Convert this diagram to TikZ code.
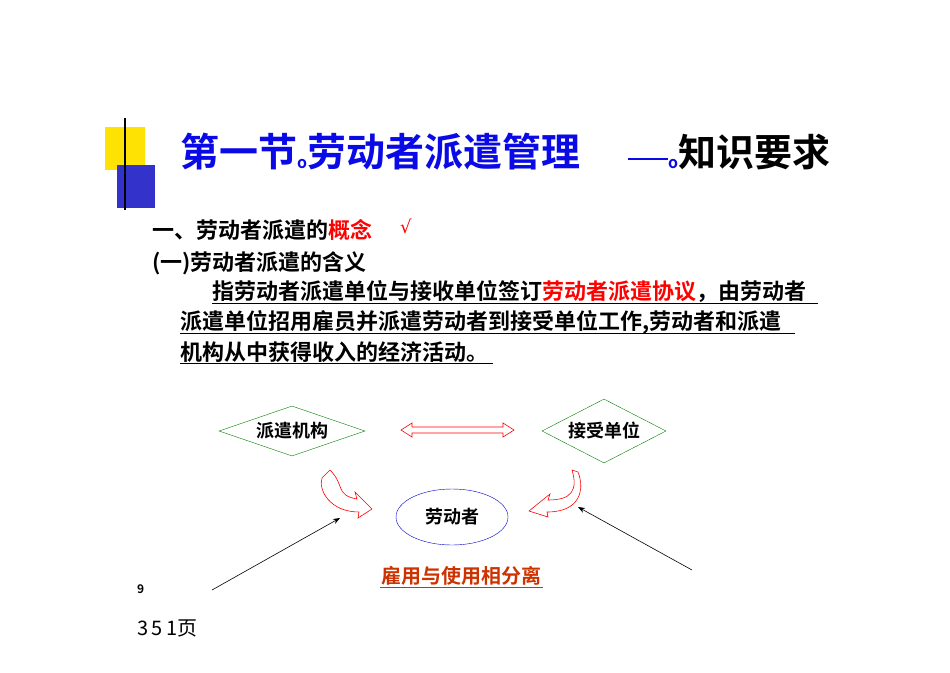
\documentclass[tikz,border=0pt]{standalone}
\usepackage{fontspec}
\setmainfont{Noto Sans CJK SC Bold}
\newfontfamily\cjk{Noto Sans CJK SC Bold}
\newfontfamily\cjkr{Noto Sans CJK SC}
\newfontfamily\djvsym{DejaVu Sans}
\usetikzlibrary{shapes.geometric,arrows.meta}
\definecolor{tblue}{HTML}{0A0AE6}
\definecolor{ored}{HTML}{CC3300}
\begin{document}
\begin{tikzpicture}[x=1pt,y=-1pt,
  txt/.style={inner sep=0pt,anchor=west,font=\cjk\fontsize{22}{22}\selectfont},
  ul/.style={draw=black,line width=1pt},
  curv/.style={draw=red,line width=0.6pt,fill=white}]
\useasboundingbox (0,0) rectangle (950,672);
\fill[white] (0,0) rectangle (950,672);
\fill[yellow!85!orange] (105,127) rectangle (145,170);
\fill[blue!75!black!80] (117,165) rectangle (155,208);
\draw[line width=1.5pt] (125,118) -- (125,210);
\node[txt,font=\cjk\fontsize{39}{39}\selectfont,text=tblue] (title) at (180,152) {第一节\raisebox{-2pt}{\fontsize{16}{16}\selectfont o}劳动者派遣管理};
\node[txt,font=\cjk\fontsize{38}{38}\selectfont] (title2) at (628,152) {\textcolor{tblue}{\rule[0.3ex]{40pt}{2.5pt}}\raisebox{-2pt}{\fontsize{16}{16}\selectfont\textcolor{tblue}{o}}知识要求};
\node[txt] (h1) at (152,230) {一、劳动者派遣的\textcolor{red}{概念}};
\node[txt,text=red,font=\djvsym\fontsize{18}{18}\selectfont] (chk) at (400,226) {√};
\node[txt] (h2) at (152,263) {(一)劳动者派遣的含义};
\node[txt] (p1) at (212,292) {指劳动者派遣单位与接收单位签订\textcolor{red}{劳动者派遣协议}，由劳动者};
\node[txt] (p2) at (180,322) {派遣单位招用雇员并派遣劳动者到接受单位工作,劳动者和派遣};
\node[txt] (p3) at (180,352) {机构从中获得收入的经济活动。};
\draw[ul] (212,303) -- (818,303);
\draw[ul] (180,333) -- (795,333);
\draw[ul] (180,363) -- (493,363);
\node[diamond,aspect=2.9,draw=green!50!black,minimum width=146pt,minimum height=50pt,inner sep=0pt,font=\cjk\fontsize{18}{18}\selectfont] (pq) at (292,431) {派遣机构};
\node[diamond,aspect=1.94,draw=green!50!black,minimum width=124pt,minimum height=64pt,inner sep=0pt,font=\cjk\fontsize{18}{18}\selectfont] (js) at (604,431) {接受单位};
\node[ellipse,draw=blue!80!black,minimum width=112pt,minimum height=56pt,inner sep=0pt,font=\cjk\fontsize{18}{18}\selectfont] (ldz) at (452,517) {劳动者};
\draw[curv] (401,430) -- (412,423) -- (412,427) -- (503,427) -- (503,423) -- (514,430) -- (503,437) -- (503,433) -- (412,433) -- (412,437) -- cycle;
\draw[curv] (330,470) .. controls (345,485) and (335,495) .. (357,499) -- (355,492) -- (372,509) -- (358,518) -- (359,512) .. controls (330,512) and (318,490) .. (322,478) -- cycle;
\draw[curv] (572,470) .. controls (578,490) and (572,500) .. (548,500) -- (550,494) -- (529,511) -- (548,517) -- (547,512) .. controls (580,512) and (585,490) .. (578,472) -- cycle;
\coordinate (a1s) at (212,590); \coordinate (a1e) at (340,518);
\coordinate (a2s) at (692,570); \coordinate (a2e) at (578,507);
\draw[-{Stealth[length=7pt]},line width=0.6pt] (a1s) -- (a1e);
\draw[-{Stealth[length=7pt]},line width=0.6pt] (a2s) -- (a2e);
\node[txt,text=ored,font=\cjk\fontsize{20}{20}\selectfont] (sep) at (381,576) {雇用与使用相分离};
\draw[ored,line width=0.8pt] (380,587) -- (543,587);
\node[txt,font=\fontsize{12}{12}\selectfont\itshape] (nine) at (137,589) {9};
\node[txt,font=\cjkr\fontsize{20}{20}\selectfont] (pg) at (137,628) {3\,5\,1页};
\end{tikzpicture}
\end{document}
